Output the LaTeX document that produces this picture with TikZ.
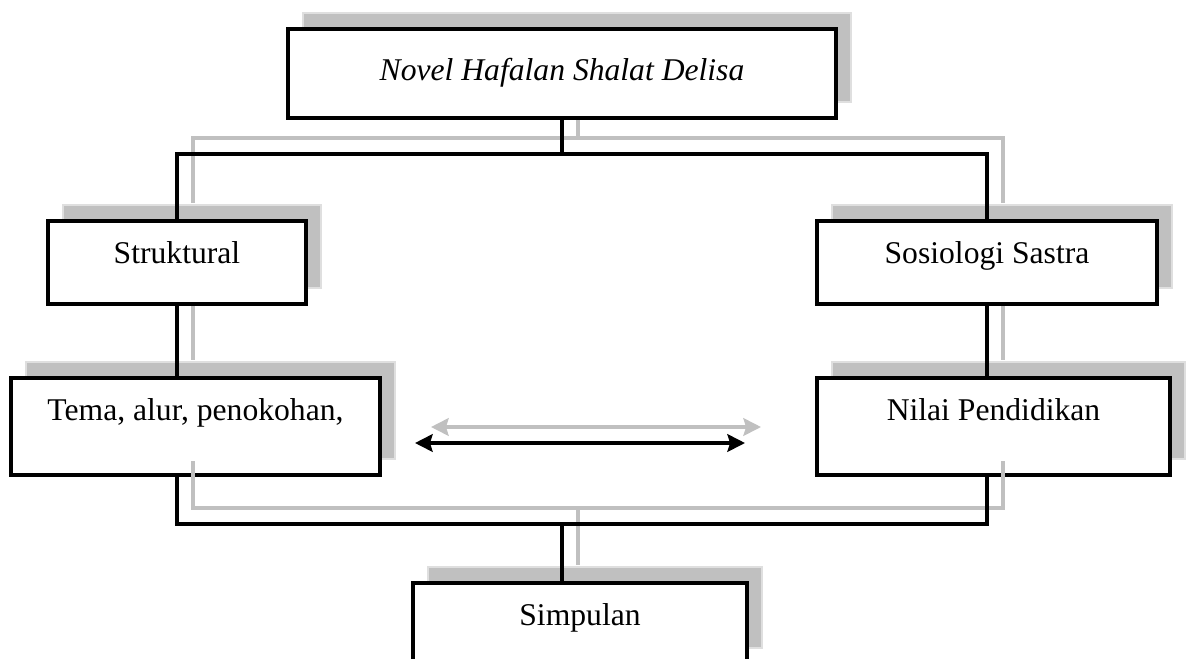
\documentclass[tikz,border=0pt]{standalone}
\usepackage{fontspec}
\setmainfont{Liberation Serif}
\usetikzlibrary{shadows,arrows.meta,backgrounds}
\definecolor{bayang}{HTML}{C0C0C0}
\tikzset{
    kotak/.style={draw, line width=2.4pt, fill=white, inner xsep=2pt, inner ysep=0pt,
        text height=0.84cm, font=\fontsize{18pt}{21pt}\selectfont,
        drop shadow={shadow xshift=0.3cm, shadow yshift=0.32cm, fill=bayang, draw=gray!25, line width=0.6pt, opacity=1}},
    garis/.style={line width=2pt},
    garisabu/.style={line width=2pt, bayang},
    panah/.style={{Stealth[length=10pt,width=10pt,inset=1.5pt]}-{Stealth[length=10pt,width=10pt,inset=1.5pt]}}
}

\begin{document}
\begin{tikzpicture}
        \useasboundingbox (0,0) rectangle (23.74,-13.16);
        \clip (0,0) rectangle (23.74,-13.16);

        % Define nodes
        \node[kotak, minimum width=10.96cm, minimum height=1.78cm, text height=1.02cm, text depth=0.76cm] (novel) at (11.24,-1.47) {\textit{Novel Hafalan Shalat Delisa}};
        \node[kotak, minimum width=5.16cm, minimum height=1.66cm, text depth=0.82cm] (struk) at (3.54,-5.25) {Struktural};
        \node[kotak, minimum width=6.8cm, minimum height=1.66cm, text depth=0.82cm] (sosio) at (19.74,-5.25) {Sosiologi Sastra};
        \node[kotak, minimum width=7.38cm, minimum height=1.94cm, text depth=1.10cm] (tema) at (3.91,-8.53) {Tema, alur, penokohan,};
        \node[kotak, minimum width=7.06cm, minimum height=1.94cm, text depth=1.10cm] (nilai) at (19.87,-8.53) {Nilai Pendidikan};
        \node[kotak, minimum width=6.68cm, minimum height=1.62cm, text depth=0.78cm] (simp) at (11.6,-12.47) {Simpulan};

        % Junctions and arrow ends
        \path (novel.south) ++(0,-0.68) coordinate (atas);
        \path (novel.south |- simp.north) ++(0,1.14) coordinate (bawah);
        \coordinate (panahkiri) at (8.3,-8.86);
        \coordinate (panahkanan) at (14.9,-8.86);

        % Gray copies behind the boxes
        \begin{scope}[on background layer]
        \begin{scope}[transform canvas={shift={(0.32,0.32)}}, garisabu]
            \draw (novel.south) -- (atas);
            \draw (struk.north) |- (atas) -| (sosio.north);
            \draw (struk.south) -- (struk.south |- tema.north);
            \draw (sosio.south) -- (sosio.south |- nilai.north);
            \draw[panah] (panahkiri) -- (panahkanan);
        \end{scope}
        \end{scope}

        % Gray copy of the bottom join
        \begin{scope}[transform canvas={shift={(0.32,0.32)}}, garisabu]
            \draw (struk.south |- tema.south) |- (bawah) -| (sosio.south |- nilai.south);
            \draw (bawah) -- (novel.south |- simp.north);
        \end{scope}

        % Connect top box to both sides
        \draw[garis] (novel.south) -- (atas);
        \draw[garis] (struk.north) |- (atas) -| (sosio.north);

        % Connect each side downward
        \draw[garis] (struk.south) -- (struk.south |- tema.north);
        \draw[garis] (sosio.south) -- (sosio.south |- nilai.north);

        % Connect both sides to the conclusion
        \draw[garis] (struk.south |- tema.south) |- (bawah) -| (sosio.south |- nilai.south);
        \draw[garis] (bawah) -- (novel.south |- simp.north);

        % Two-way arrow
        \draw[garis, panah] (panahkiri) -- (panahkanan);
\end{tikzpicture}
\end{document}
